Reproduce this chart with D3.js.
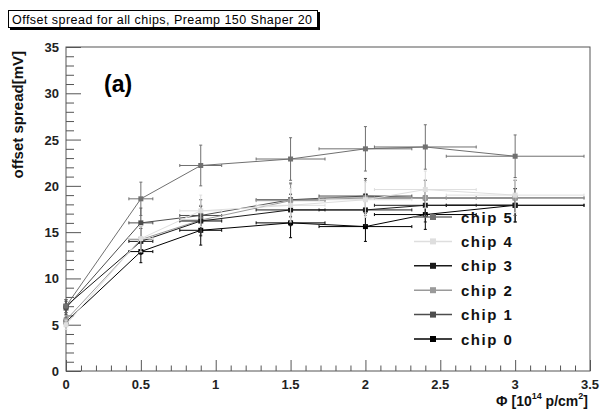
<!DOCTYPE html>
<html><head><meta charset="utf-8">
<script src="https://cdn.jsdelivr.net/npm/d3@7"></script>
<style>body{margin:0;background:#fff}svg{display:block}text{font-family:Arial,"Liberation Sans",Helvetica,sans-serif}</style>
</head><body><svg id="c" width="600" height="414"></svg>
<script>
const xVals = [0, 0.5, 0.9, 1.5, 2.0, 2.4, 3.0];
const xErr  = [0, 0.08, 0.14, 0.23, 0.31, 0.34, 0.46];
const chip0 = [5.3, 12.9, 15.2, 16.0, 15.6, 16.9, 17.9];
const chip0Err = [0.5, 1.2, 1.6, 1.6, 1.6, 1.6, 1.8];
const chip1 = [6.8, 16.0, 16.8, 18.5, 18.9, 18.7, 18.7];
const chip1Err = [0.7, 1.6, 1.7, 1.8, 1.9, 1.9, 1.9];
const chip2 = [5.5, 14.2, 16.3, 18.4, 18.7, 18.7, 18.7];
const chip2Err = [0.5, 1.4, 1.6, 1.8, 1.9, 1.9, 1.9];
const chip3 = [7.0, 14.0, 16.2, 17.4, 17.4, 17.9, 17.9];
const chip3Err = [0.7, 1.4, 1.6, 1.7, 1.7, 1.8, 1.8];
const chip4 = [5.0, 14.3, 17.3, 17.9, 18.5, 19.6, 19.0];
const chip4Err = [0.5, 1.4, 1.7, 1.8, 1.9, 2.0, 1.9];
const chip5 = [7.0, 18.6, 22.2, 22.9, 24.0, 24.2, 23.2];
const chip5Err = [0.7, 1.8, 2.2, 2.3, 2.4, 2.4, 2.3];
const seriesNames = ["chip 0","chip 1","chip 2","chip 3","chip 4","chip 5"];
const seriesColors = ["#000000","#4d4d4d","#9a9a9a","#1a1a1a","#dedede","#707070"];
const xTicks = [0,0.5,1,1.5,2,2.5,3,3.5];
const xTickLabels = ["0","0.5","1","1.5","2","2.5","3","3.5"];
const yTicks = [0,5,10,15,20,25,30,35];
const titleText = "Offset spread for all chips, Preamp 150 Shaper 20";

const series = [
  {name:seriesNames[0], y:chip0, e:chip0Err, c:seriesColors[0]},
  {name:seriesNames[1], y:chip1, e:chip1Err, c:seriesColors[1]},
  {name:seriesNames[2], y:chip2, e:chip2Err, c:seriesColors[2]},
  {name:seriesNames[3], y:chip3, e:chip3Err, c:seriesColors[3]},
  {name:seriesNames[4], y:chip4, e:chip4Err, c:seriesColors[4]},
  {name:seriesNames[5], y:chip5, e:chip5Err, c:seriesColors[5]}
];

const svg = d3.select("#c");
svg.append("rect").attr("width",600).attr("height",414).attr("fill","#fff");
const L=66, R=590, T=47, B=371;
const x = d3.scaleLinear().domain([0,3.5]).range([L,R]);
const y = d3.scaleLinear().domain([0,35]).range([B,T]);
const axCol = "#555";

// frame
svg.append("rect").attr("x",L).attr("y",T).attr("width",R-L).attr("height",B-T)
  .attr("fill","none").attr("stroke",axCol).attr("stroke-width",1);

// y ticks (inside)
const yMinor = d3.range(0,35.01,1);
svg.append("g").selectAll("line").data(yMinor).join("line")
  .attr("x1",L).attr("x2",d=> d%5===0 ? L+15 : L+8)
  .attr("y1",d=>y(d)+0.5).attr("y2",d=>y(d)+0.5)
  .attr("stroke",axCol).attr("stroke-width",1);
// x ticks (inside)
const xMinor = d3.range(0,35.01,1).map(v=>v/10);
svg.append("g").selectAll("line").data(xMinor).join("line")
  .attr("x1",d=>x(d)+0.5).attr("x2",d=>x(d)+0.5)
  .attr("y1",B).attr("y2",(d,i)=> i%5===0 ? B-11 : B-5.5)
  .attr("stroke",axCol).attr("stroke-width",1);

// tick labels
svg.append("g").selectAll("text").data(yTicks).join("text")
  .attr("x",L-7).attr("y",d=>y(d)+5).attr("text-anchor","end")
  .attr("font-size",13).attr("font-weight","bold").attr("fill","#222").text(d=>d);
svg.append("g").selectAll("text").data(xTicks).join("text")
  .attr("x",d=>x(d)).attr("y",B+18).attr("text-anchor","middle")
  .attr("font-size",13).attr("font-weight","bold").attr("fill","#222").text((d,i)=>xTickLabels[i]);

// axis titles
svg.append("text").attr("transform",`translate(23,${T+4}) rotate(-90)`).attr("text-anchor","end")
  .attr("font-size",15).attr("font-weight","bold").attr("fill","#111").text("offset spread[mV]");
const xt = svg.append("text").attr("x",R-2).attr("y",406).attr("text-anchor","end")
  .attr("font-size",14).attr("font-weight","bold").attr("fill","#111");
xt.append("tspan").text("\u03A6 [10");
xt.append("tspan").attr("dy",-7).attr("font-size",9).text("14");
xt.append("tspan").attr("dy",7).text(" p/cm");
xt.append("tspan").attr("dy",-7).attr("font-size",9).text("2");
xt.append("tspan").attr("dy",7).text("]");

// (a)
svg.append("text").attr("x",104).attr("y",92).attr("font-size",23).attr("font-weight","bold").attr("fill","#000").text("(a)");

// data
const line = d3.line().x((d,i)=>x(xVals[i])).y(d=>y(d));
series.forEach(s=>{
  const g = svg.append("g");
  xVals.forEach((xv,i)=>{
    const cx = x(xv), cy = y(s.y[i]);
    const y0 = y(s.y[i]-s.e[i]), y1 = y(s.y[i]+s.e[i]);
    g.append("line").attr("x1",cx).attr("x2",cx).attr("y1",y0).attr("y2",y1).attr("stroke",s.c).attr("stroke-width",1);
    g.append("line").attr("x1",cx-1.5).attr("x2",cx+1.5).attr("y1",y0).attr("y2",y0).attr("stroke",s.c).attr("stroke-width",1);
    g.append("line").attr("x1",cx-1.5).attr("x2",cx+1.5).attr("y1",y1).attr("y2",y1).attr("stroke",s.c).attr("stroke-width",1);
    if (xErr[i]>0){
      const x0 = x(xv-xErr[i]), x1 = x(xv+xErr[i]);
      g.append("line").attr("x1",x0).attr("x2",x1).attr("y1",cy).attr("y2",cy).attr("stroke",s.c).attr("stroke-width",1);
      g.append("line").attr("x1",x0).attr("x2",x0).attr("y1",cy-1.5).attr("y2",cy+1.5).attr("stroke",s.c).attr("stroke-width",1);
      g.append("line").attr("x1",x1).attr("x2",x1).attr("y1",cy-1.5).attr("y2",cy+1.5).attr("stroke",s.c).attr("stroke-width",1);
    }
  });
  g.append("path").attr("d",line(s.y)).attr("fill","none").attr("stroke",s.c).attr("stroke-width",1);
  g.selectAll("rect").data(s.y).join("rect")
    .attr("x",(d,i)=>x(xVals[i])-2.5).attr("y",d=>y(d)-2.5).attr("width",5).attr("height",5).attr("fill",s.c);
});

// legend
const legendOrder = series.slice().reverse();
const lg = svg.append("g");
legendOrder.forEach((s,i)=>{
  const ly = 217 + i*24.4;
  lg.append("line").attr("x1",414).attr("x2",452).attr("y1",ly).attr("y2",ly).attr("stroke",s.c).attr("stroke-width",1.5);
  lg.append("rect").attr("x",430).attr("y",ly-3).attr("width",6).attr("height",6).attr("fill",s.c);
  lg.append("text").attr("x",461).attr("y",ly+5.5).attr("font-size",15).attr("font-weight","bold")
    .attr("letter-spacing","1.5px").attr("fill","#111").text(s.name);
});

// title box
svg.append("rect").attr("x",10).attr("y",12).attr("width",310).attr("height",18).attr("fill","#000");
svg.append("rect").attr("x",8.5).attr("y",10.5).attr("width",309).attr("height",17).attr("fill","#fff").attr("stroke","#000").attr("stroke-width",1);
svg.append("text").attr("x",12).attr("y",23.5).attr("font-size",12.5).attr("fill","#000")
  .attr("textLength",300).attr("lengthAdjust","spacing").text(titleText);
</script></body></html>
